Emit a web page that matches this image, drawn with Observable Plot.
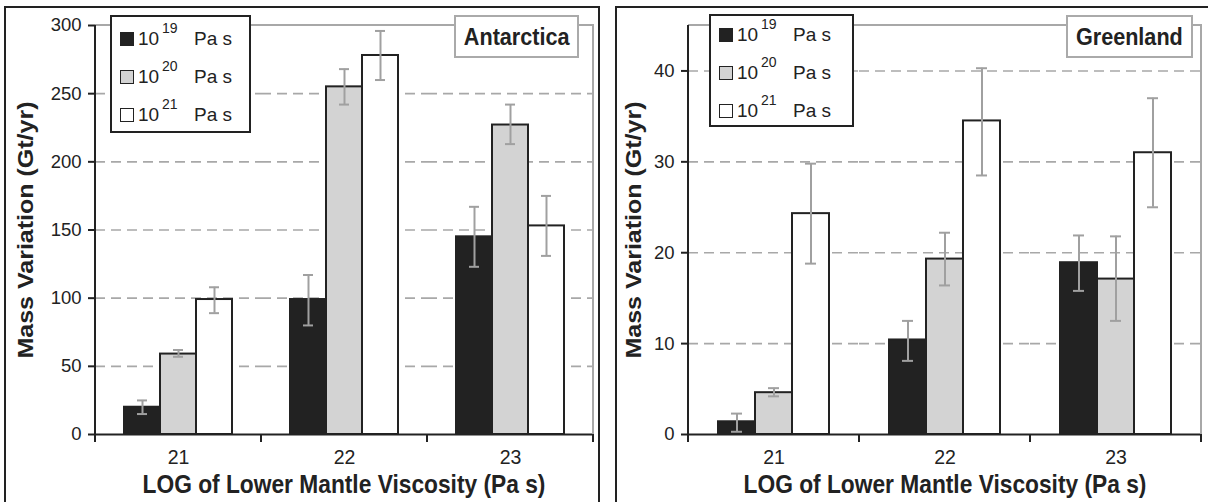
<!DOCTYPE html>
<html><head><meta charset="utf-8">
<script src="https://cdn.jsdelivr.net/npm/d3@7"></script>
<script src="https://cdn.jsdelivr.net/npm/@observablehq/plot@0.6"></script>
<style>
body{margin:0;background:#fff;font-family:"Liberation Sans",Arial,sans-serif;color:#222}
#root{position:relative;width:1208px;height:502px;overflow:hidden;background:#fff}
.panel{position:absolute;border:2px solid #222;border-bottom:none;box-sizing:border-box;height:520px}
.plot{position:absolute;top:0}
.legend{position:absolute;border:2px solid #222;background:#fff;box-sizing:border-box;font-size:19px;color:#222}
.legend .row{position:absolute;left:0;height:22px;width:100%}
.legend .sw{position:absolute;left:8px;top:4px;width:14px;height:14px;border:1.6px solid #222;box-sizing:border-box}
.legend .ten{position:absolute;left:26px;top:1px;line-height:19px}
.legend .sup{position:absolute;left:50px;top:-7px;font-size:14px;line-height:14px}
.legend .unit{position:absolute;left:82px;top:1px;line-height:19px}
.title{position:absolute;border:2px solid #aaa;background:#fff;font-weight:bold;font-size:24px;display:flex;align-items:center;justify-content:center;box-sizing:border-box;color:#222}
.title span{display:inline-block;transform:scaleX(0.9);white-space:nowrap}
.xlab{position:absolute;font-weight:bold;font-size:25px;white-space:nowrap;transform:translate(-50%,-50%) scaleX(0.91);color:#222}
.ylab{position:absolute;font-weight:bold;font-size:25px;white-space:nowrap;transform:translate(-50%,-50%) scaleX(0.91) rotate(-90deg);color:#222}
</style>
</head><body>
<div id="root"></div>
<script>
// ---- data ----
const groups = ["21", "22", "23"];                 // LOG of lower mantle viscosity
const seriesExp = ["19", "20", "21"];              // upper mantle viscosity 10^x Pa s
const seriesColors = ["#222222", "#d3d3d3", "#ffffff"];
const xTitle = "LOG of Lower Mantle Viscosity (Pa s)";
const yTitle = "Mass Variation (Gt/yr)";

// Antarctica (Gt/yr): rows = series 10^19, 10^20, 10^21; columns = groups 21, 22, 23
const antValue = [[20, 99, 145], [59, 255, 227], [99, 278, 153]];
const antLow   = [[15, 80, 123], [57, 242, 213], [89, 260, 131]];
const antHigh  = [[25, 117, 167], [62, 268, 242], [108, 296, 175]];
const antTicks = [0, 50, 100, 150, 200, 250, 300];

// Greenland (Gt/yr)
const grnValue = [[1.4, 10.4, 18.9], [4.6, 19.3, 17.1], [24.3, 34.5, 31.0]];
const grnLow   = [[0.3, 8.1, 15.8], [4.2, 16.4, 12.5], [18.8, 28.5, 25.0]];
const grnHigh  = [[2.3, 12.5, 21.9], [5.1, 22.2, 21.8], [29.8, 40.3, 37.0]];
const grnTicks = [0, 10, 20, 30, 40];

const root = document.getElementById("root");

function rows(value, low, high) {
  const out = [];
  seriesExp.forEach((s, si) => groups.forEach((g, gi) => out.push({
    group: g, series: s, value: value[si][gi], low: low[si][gi], high: high[si][gi]
  })));
  return out;
}

function panel(cfg) {
  const box = document.createElement("div");
  box.className = "panel";
  Object.assign(box.style, {left: cfg.boxLeft + "px", top: "6px", width: cfg.boxWidth + "px"});
  root.appendChild(box);

  const data = rows(cfg.value, cfg.low, cfg.high);
  const ticks = cfg.ticks;
  const top = cfg.yMax;
  const err = {fx: "group", x: "series", stroke: "#a0a0a0", strokeWidth: 2};
  const plot = Plot.plot({
    width: cfg.width, height: 502,
    marginLeft: cfg.marginLeft, marginRight: cfg.marginRight, marginTop: 25, marginBottom: 68,
    style: {fontFamily: "'Liberation Sans', Arial, sans-serif", fontSize: "18px", color: "#222", background: "transparent", overflow: "visible"},
    fx: {domain: groups, padding: 0, axis: null, label: null},
    x: {domain: seriesExp, paddingInner: 0, paddingOuter: 0.76, axis: null, label: null},
    y: {domain: [0, top], axis: null, label: null},
    color: {domain: seriesExp, range: seriesColors},
    marks: [
      Plot.gridY(ticks.filter(t => t > 0 && t < top), {stroke: "#a8a8a8", strokeOpacity: 1, strokeWidth: 1.6, strokeDasharray: "10,6"}),
      Plot.barY(data, {fx: "group", x: "series", y: "value", fill: "series", stroke: "#222", strokeWidth: 2}),
      Plot.ruleX(data, {...err, y1: "low", y2: "high"}),
      Plot.tickY(data, {...err, y: "low", insetLeft: cfg.cap, insetRight: cfg.cap}),
      Plot.tickY(data, {...err, y: "high", insetLeft: cfg.cap, insetRight: cfg.cap}),
      Plot.ruleY([0], {stroke: "#222", strokeWidth: 2}),
      Plot.axisY(ticks, {anchor: "left", tickSize: 7, tickPadding: 7, strokeWidth: 2, label: null, fontSize: 18.5}),
      Plot.axisFx({anchor: "bottom", tickSize: 0, tickPadding: 16, label: null, fontSize: 19.5})
    ]
  });
  plot.classList.add("plot");
  plot.style.left = cfg.left + "px";
  root.appendChild(plot);

  // frame, axis line and boundary ticks from the scales
  const fx = plot.scale("fx"), y = plot.scale("y");
  const x0 = fx.apply(groups[0]);
  const x1 = fx.apply(groups[groups.length - 1]) + fx.bandwidth;
  const yTop = y.apply(top), y0 = y.apply(0);
  const g = d3.select(plot).append("g");
  g.append("path").attr("d", `M${x0},${yTop}H${x1}V${y0}`)
    .attr("fill", "none").attr("stroke", "#a8a8a8").attr("stroke-width", 2);
  g.append("line").attr("x1", x0).attr("x2", x0).attr("y1", yTop).attr("y2", y0 + 8)
    .attr("stroke", "#222").attr("stroke-width", 2);
  const bounds = groups.map(d => fx.apply(d) + fx.bandwidth);
  g.selectAll(".b").data(bounds).join("line")
    .attr("x1", d => d).attr("x2", d => d).attr("y1", y0).attr("y2", y0 + 8)
    .attr("stroke", "#222").attr("stroke-width", 2);

  // legend
  const lg = document.createElement("div");
  lg.className = "legend";
  Object.assign(lg.style, {left: cfg.legend.left + "px", top: cfg.legend.top + "px", width: cfg.legend.width + "px", height: cfg.legend.height + "px"});
  seriesExp.forEach((s, i) => {
    const r = document.createElement("div");
    r.className = "row";
    r.style.top = (cfg.legend.first + i * 38) + "px";
    r.innerHTML = `<span class="sw" style="background:${seriesColors[i]}"></span><span class="ten">10</span><span class="sup">${s}</span><span class="unit">Pa s</span>`;
    lg.appendChild(r);
  });
  root.appendChild(lg);

  // region title box
  const t = document.createElement("div");
  t.className = "title";
  const ts = document.createElement("span");
  ts.textContent = cfg.name;
  t.appendChild(ts);
  Object.assign(t.style, {left: cfg.title.left + "px", top: cfg.title.top + "px", width: cfg.title.width + "px", height: cfg.title.height + "px"});
  root.appendChild(t);

  // axis titles
  const xl = document.createElement("div");
  xl.className = "xlab"; xl.textContent = xTitle;
  Object.assign(xl.style, {left: (cfg.left + (x0 + x1) / 2) + "px", top: "484px"});
  root.appendChild(xl);
  const yl = document.createElement("div");
  yl.className = "ylab"; yl.textContent = yTitle;
  Object.assign(yl.style, {left: (cfg.left + cfg.yLabX) + "px", top: ((yTop + y0) / 2) + "px"});
  root.appendChild(yl);
}

panel({
  name: "Antarctica", value: antValue, low: antLow, high: antHigh, ticks: antTicks, yMax: 300,
  left: 0, width: 600, marginLeft: 95, marginRight: 7, cap: 13,
  boxLeft: 4, boxWidth: 596, yLabX: 25,
  legend: {left: 110, top: 15, width: 141, height: 118, first: 11},
  title: {left: 454, top: 15, width: 125, height: 43}
});
panel({
  name: "Greenland", value: grnValue, low: grnLow, high: grnHigh, ticks: grnTicks, yMax: 45,
  left: 600, width: 608, marginLeft: 88, marginRight: 7, cap: 13,
  boxLeft: 615, boxWidth: 620, yLabX: 33,
  legend: {left: 709, top: 14, width: 145, height: 113, first: 8},
  title: {left: 1066, top: 15, width: 127, height: 43}
});
</script>
</body></html>
